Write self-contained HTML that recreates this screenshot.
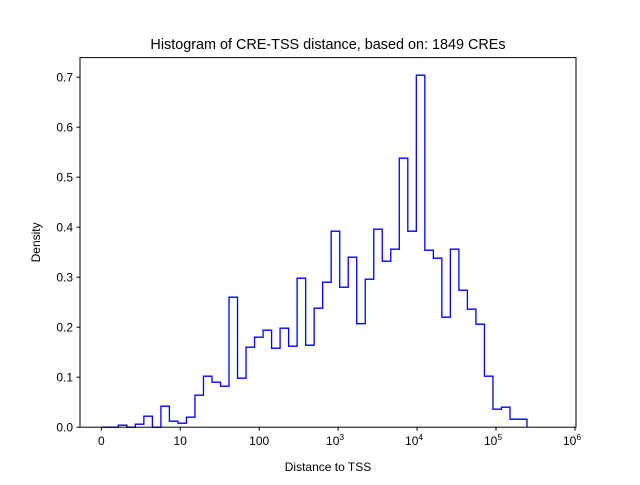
<!DOCTYPE html>
<html><head><meta charset="utf-8"><style>html,body{margin:0;padding:0;background:#fff}</style></head>
<body>
<svg id="s" width="640" height="480" xmlns="http://www.w3.org/2000/svg" font-family="'Liberation Sans','DejaVu Sans',sans-serif">
<rect width="640" height="480" fill="#fff"/>
<text x="328" y="49" font-size="14.4" text-anchor="middle">Histogram of CRE-TSS distance, based on: 1849 CREs</text>
<path id="h" fill="none" stroke="#0000ff" stroke-width="1.3" stroke-linejoin="miter"/>
<rect x="80" y="57.6" width="496" height="369.6" fill="none" stroke="#000" stroke-width="1"/>
<g id="ax" font-size="12" stroke-width="1"></g>
<text x="328" y="471" font-size="12" text-anchor="middle">Distance to TSS</text>
<text transform="translate(40,242.4) rotate(-90)" font-size="12" text-anchor="middle">Density</text>
</svg>
<script>
var v=[0,0,.004,0,.006,.022,0,.042,.012,.008,.02,.064,.102,.09,.082,.26,.098,.16,.18,.194,.158,.198,.162,.298,.164,.238,.29,.392,.28,.34,.207,.296,.396,.332,.356,.538,.392,.704,.354,.338,.22,.356,.274,.236,.206,.102,.036,.04,.016,.016];
function Y(d){return 427.2-d*500;}
var w=(527-101.3)/50,d="M101.3 427.2";
for(var i=0;i<v.length;i++){var x0=101.3+w*i,x1=x0+w;d+=" L"+x0.toFixed(2)+" "+Y(v[i]).toFixed(2)+" L"+x1.toFixed(2)+" "+Y(v[i]).toFixed(2);}
d+=" L527 427.2";
document.getElementById("h").setAttribute("d",d);
var g=document.getElementById("ax"),s="";
for(var k=0;k<=7;k++){var y=Y(k/10);s+='<line x1="76.5" x2="80" y1="'+y+'" y2="'+y+'" stroke="#000"/><text x="73" y="'+(y+4.3)+'" text-anchor="end">'+(k==0?"0.0":"0."+k)+'</text>';}
var xs=[101.3,180.2,259.2,338.1,417.1,496,575],lb=["0","10","100"];
for(var j=0;j<7;j++){var x=xs[j];s+='<line x1="'+x+'" x2="'+x+'" y1="427.2" y2="430.7" stroke="#000"/>';
if(j<3)s+='<text x="'+x+'" y="445" text-anchor="middle">'+lb[j]+'</text>';
else s+='<text x="'+(x-3)+'" y="445" text-anchor="middle">10<tspan font-size="8.5" dy="-5">'+j+'</tspan></text>';}
g.innerHTML=s;
</script>
</body></html>
